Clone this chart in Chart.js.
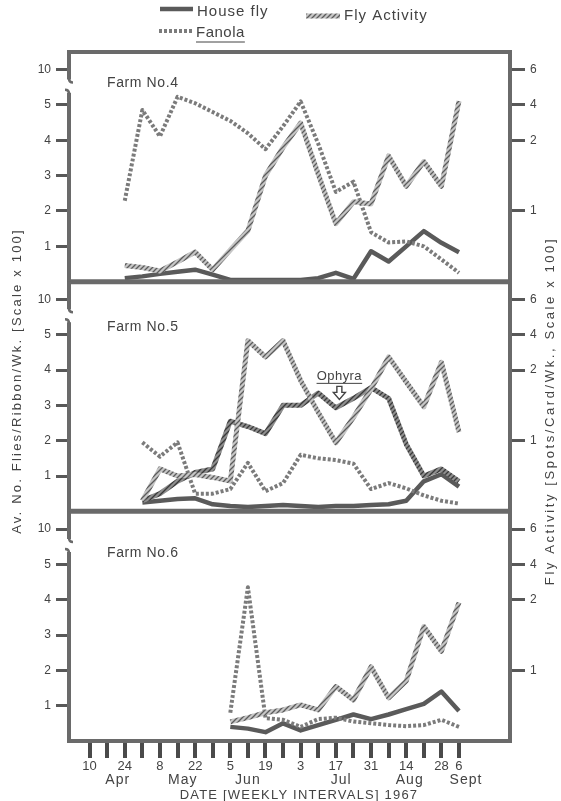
<!DOCTYPE html>
<html>
<head>
<meta charset="utf-8">
<script src="https://cdn.jsdelivr.net/npm/chart.js@4.4.1/dist/chart.umd.min.js"></script>
<style>
  html, body { margin: 0; padding: 0; background: #fff; }
  canvas { display: block; }
</style>
</head>
<body>
<canvas id="flyChart" width="561" height="801"></canvas>
<script>
// weekly intervals, 10 Apr .. 6 Sept 1967 (index 0 = 10 Apr)
const weekLabels = ['10', '', '24', '', '8', '', '22', '', '5', '', '19', '', '3', '', '17', '', '31', '', '14', '', '28', '6'];
const monthLabels = ['Apr', 'May', 'Jun', 'Jul', 'Aug', 'Sept'];
const monthAt = [1.6, 5.3, 9.0, 14.3, 18.2, 21.4];

const fliesTicks = [1, 2, 3, 4, 5, 10];
const activityTicks = [1, 2, 4, 6];

// Farm No.4
const houseFly4 = [null, null, 0.1, 0.15, 0.22, 0.28, 0.34, 0.2, 0.05, 0.05, 0.05, 0.05, 0.05, 0.1, 0.25, 0.08, 0.86, 0.57, 1.0, 1.43, 1.1, 0.83];
const fannia4 = [null, null, 2.29, 4.86, 4.11, 5.23, 5.05, 4.8, 4.55, 4.2, 3.75, 4.4, 5.1, 3.9, 2.54, 2.83, 1.4, 1.11, 1.14, 1.0, 0.63, 0.25];
const activity4 = [null, null, 0.23, 0.2, 0.15, 0.28, 0.42, 0.17, 0.45, 0.72, 1.5, 1.9, 2.98, 1.52, 0.82, 1.13, 1.1, 1.78, 1.35, 1.7, 1.35, 4.22];

// Farm No.5
const houseFly5 = [null, null, null, 0.25, 0.3, 0.35, 0.37, 0.2, 0.15, 0.12, 0.15, 0.18, 0.15, 0.12, 0.15, 0.15, 0.18, 0.2, 0.3, 0.85, 1.05, 0.7];
const ophyra5 = [null, null, null, 0.3, 0.5, 0.85, 1.1, 1.2, 2.55, 2.4, 2.2, 3.0, 3.0, 3.35, 2.93, 3.2, 3.5, 3.2, 1.9, 1.0, 1.2, 0.85];
const fannia5 = [null, null, null, 1.95, 1.55, 1.95, 0.5, 0.5, 0.63, 1.37, 0.57, 0.8, 1.6, 1.5, 1.45, 1.35, 0.63, 0.8, 0.65, 0.45, 0.3, 0.22];
const activity5 = [null, null, null, 0.15, 0.6, 0.5, 0.52, 0.48, 0.43, 3.66, 2.74, 3.66, 1.85, 1.4, 0.97, 1.33, 1.73, 2.74, 1.83, 1.48, 2.44, 1.12];

// Farm No.6
const houseFly6 = [null, null, null, null, null, null, null, null, 0.4, 0.35, 0.25, 0.5, 0.3, 0.45, 0.6, 0.75, 0.62, 0.75, 0.9, 1.05, 1.4, 0.85];
const fannia6 = [null, null, null, null, null, null, null, null, 0.8, 4.35, 0.65, 0.6, 0.4, 0.62, 0.66, 0.55, 0.5, 0.45, 0.42, 0.45, 0.6, 0.4];
const activity6 = [null, null, null, null, null, null, null, null, 0.27, 0.33, 0.4, 0.44, 0.51, 0.44, 0.77, 0.58, 1.05, 0.61, 0.85, 1.62, 1.27, 1.96];

const panels = [
  { title: 'Farm No.4', titleY: 83, houseFly: houseFly4, fannia: fannia4, activity: activity4 },
  { title: 'Farm No.5', titleY: 327, houseFly: houseFly5, fannia: fannia5, activity: activity5, ophyra: ophyra5 },
  { title: 'Farm No.6', titleY: 553, houseFly: houseFly6, fannia: fannia6, activity: activity6 }
];

const SPAN = 6.5;            // height of one panel in axis units
const FONT = '"Liberation Sans", Arial, sans-serif';
const INK = '#434343';
const FRAME = '#6a6a6a';

// broken scales: left is linear to 5 then 10 sits one step up,
// right (fly activity) is x2 up to 2, then 4 and 6 one step each
const fliesPos = v => v <= 5.35 ? v : 6 + (v - 10) / 5;
const activityPos = v => v <= 2 ? 2 * v : v <= 4 ? 4 + (v - 2) / 2 : 5 + (v - 4) / 2;
const offsetOf = k => (panels.length - 1 - k) * SPAN;

Chart.defaults.font.family = FONT;
Chart.defaults.color = INK;

const ctx = document.getElementById('flyChart');
const g = ctx.getContext('2d');

function hatch(bg, fg) {
  const c = document.createElement('canvas');
  c.width = 5; c.height = 5;
  const h = c.getContext('2d');
  h.fillStyle = bg;
  h.fillRect(0, 0, 5, 5);
  h.strokeStyle = fg;
  h.lineWidth = 1.3;
  h.beginPath();
  h.moveTo(-1, 6); h.lineTo(6, -1);
  h.moveTo(-1, 1); h.lineTo(1, -1);
  h.moveTo(4, 6); h.lineTo(6, 4);
  h.stroke();
  return g.createPattern(c, 'repeat');
}

const houseFlyStyle = { borderColor: '#5a5a5a', borderWidth: 4.5, borderDash: [] };
const activityStyle = { borderColor: hatch('#c6c6c6', '#5c5c5c'), borderWidth: 5, borderDash: [] };
const fanniaStyle = { borderColor: '#7b7b7b', borderWidth: 4, borderDash: [3, 2] };
const ophyraStyle = { borderColor: hatch('#8e8e8e', '#3a3a3a'), borderWidth: 5, borderDash: [] };

function series(values, k, toPos) {
  const off = offsetOf(k);
  return values.map((v, i) => ({ x: i, y: v == null ? null : off + toPos(v) }));
}

const datasets = [];
panels.forEach((p, k) => {
  datasets.push({ label: 'Fly Activity', data: series(p.activity, k, activityPos), ...activityStyle });
  datasets.push({ label: 'Fanola', data: series(p.fannia, k, fliesPos), ...fanniaStyle });
  if (p.ophyra) datasets.push({ label: 'Ophyra', data: series(p.ophyra, k, fliesPos), ...ophyraStyle });
  datasets.push({ label: 'House fly', data: series(p.houseFly, k, fliesPos), ...houseFlyStyle });
});

function strokeSample(c, style, x1, x2, y) {
  c.save();
  c.strokeStyle = style.borderColor;
  c.lineWidth = style.borderWidth;
  c.setLineDash(style.borderDash);
  c.beginPath();
  c.moveTo(x1, y); c.lineTo(x2, y);
  c.stroke();
  c.restore();
}

function text(c, s, x, y, size, align, spacing) {
  c.font = size + 'px ' + FONT;
  c.textAlign = align;
  c.textBaseline = 'middle';
  c.letterSpacing = (spacing || 0) + 'px';
  c.fillText(s, x, y);
  c.letterSpacing = '0px';
}

const decorations = {
  id: 'decorations',
  afterDatasetsDraw(chart) {
    const c = chart.ctx, a = chart.chartArea, y = chart.scales.y, x = chart.scales.x;
    c.save();
    c.strokeStyle = FRAME;
    c.lineWidth = 4;
    c.beginPath();
    c.moveTo(a.left - 2, a.top); c.lineTo(a.right, a.top);
    c.lineTo(a.right, a.bottom); c.lineTo(a.left - 2, a.bottom);
    c.stroke();

    c.lineWidth = 5;
    for (let k = 1; k < panels.length; k++) {
      const py = y.getPixelForValue(offsetOf(k) + SPAN);
      c.beginPath(); c.moveTo(a.left - 2, py); c.lineTo(a.right, py); c.stroke();
    }

    // left border, broken between 5 and 10
    panels.forEach((p, k) => {
      const off = offsetOf(k);
      const top = y.getPixelForValue(off + SPAN), bot = y.getPixelForValue(off);
      const b1 = y.getPixelForValue(off + 5.72), b2 = y.getPixelForValue(off + 5.35);
      c.lineWidth = 4;
      c.beginPath();
      c.moveTo(a.left, top); c.lineTo(a.left, b1);
      c.moveTo(a.left, b2); c.lineTo(a.left, bot);
      c.stroke();
      c.lineWidth = 2.5;
      c.beginPath();
      c.moveTo(a.left, b1 - 1); c.quadraticCurveTo(a.left, b1 + 3, a.left + 4, b1 + 3);
      c.moveTo(a.left, b2 + 1); c.quadraticCurveTo(a.left, b2 - 3, a.left - 4, b2 - 3);
      c.stroke();

      c.fillStyle = INK;
      text(c, p.title, 107, p.titleY, 14, 'left', 0.6);
    });

    // Ophyra note on Farm No.5
    const nx = x.getPixelForValue(14.2);
    const ny = y.getPixelForValue(offsetOf(1) + 3.82);
    c.fillStyle = INK;
    text(c, 'Ophyra', nx, ny, 13, 'center', 0.4);
    const w = c.measureText('Ophyra').width + 3;
    c.strokeStyle = INK;
    c.lineWidth = 1;
    c.beginPath(); c.moveTo(nx - w / 2, ny + 7); c.lineTo(nx + w / 2, ny + 7); c.stroke();
    c.lineWidth = 1.4;
    c.beginPath();
    c.moveTo(nx - 2.5, ny + 10); c.lineTo(nx - 2.5, ny + 16); c.lineTo(nx - 6, ny + 16);
    c.lineTo(nx, ny + 23); c.lineTo(nx + 6, ny + 16); c.lineTo(nx + 2.5, ny + 16);
    c.lineTo(nx + 2.5, ny + 10); c.closePath();
    c.stroke();
    c.restore();
  },
  afterDraw(chart) {
    const c = chart.ctx, x = chart.scales.x;
    c.save();
    c.fillStyle = INK;

    // legend
    strokeSample(c, houseFlyStyle, 160, 193, 9);
    text(c, 'House fly', 197, 12, 15, 'left', 1);
    strokeSample(c, activityStyle, 306, 340, 16);
    text(c, 'Fly Activity', 344, 16, 15, 'left', 1);
    strokeSample(c, fanniaStyle, 159, 193, 31);
    text(c, 'Fanola', 196, 33, 15, 'left', 0.5);
    const fw = c.measureText('Fanola').width;
    c.strokeStyle = INK; c.lineWidth = 1;
    c.beginPath(); c.moveTo(196, 42); c.lineTo(199 + fw, 42); c.stroke();

    // months and date title
    monthLabels.forEach((m, j) => text(c, m, x.getPixelForValue(monthAt[j]), 780, 14, 'center', 1));
    text(c, 'DATE [WEEKLY INTERVALS] 1967', 299, 795, 13, 'center', 1.2);

    // axis titles
    c.save();
    c.translate(17, 381); c.rotate(-Math.PI / 2);
    text(c, 'Av. No. Flies/Ribbon/Wk. [Scale x 100]', 0, 0, 13, 'center', 2.2);
    c.restore();
    c.save();
    c.translate(550, 411); c.rotate(-Math.PI / 2);
    text(c, 'Fly Activity [Spots/Card/Wk., Scale x 100]', 0, 0, 13, 'center', 2.6);
    c.restore();
    c.restore();
  }
};

const tickGrid = len => ({ drawOnChartArea: false, drawTicks: true, tickLength: len, tickWidth: 3, tickColor: '#585858', lineWidth: 3 });

new Chart(ctx, {
  type: 'line',
  data: { datasets },
  options: {
    responsive: false,
    animation: false,
    events: [],
    layout: { padding: { top: 52, left: 0, right: 0, bottom: 0 } },
    elements: { point: { radius: 0 }, line: { tension: 0, borderCapStyle: 'butt', borderJoinStyle: 'round' } },
    plugins: { legend: { display: false }, tooltip: { enabled: false } },
    scales: {
      x: {
        type: 'linear', min: -1.17, max: 23.9, bounds: 'data',
        afterBuildTicks: s => { s.ticks = weekLabels.map((l, i) => ({ value: i })); },
        afterFit: s => { s.height = 60; },
        ticks: { autoSkip: false, maxRotation: 0, padding: 1, font: { size: 13 }, color: INK,
                 callback: v => weekLabels[v] },
        grid: { drawOnChartArea: false, drawTicks: true, tickLength: 17, tickWidth: 4, tickColor: '#4a4a4a', lineWidth: 4 },
        border: { display: false }
      },
      y: {
        position: 'left', min: 0, max: SPAN * panels.length, bounds: 'data',
        afterBuildTicks: s => {
          s.ticks = [];
          panels.forEach((p, k) => fliesTicks.forEach(v => s.ticks.push({ value: offsetOf(k) + fliesPos(v) })));
        },
        afterFit: s => { s.width = 69; },
        ticks: { padding: 5, font: { size: 12 }, color: INK,
                 callback: (v, i) => String(fliesTicks[i % fliesTicks.length]) },
        grid: tickGrid(13),
        border: { display: false }
      },
      yR: {
        position: 'right', min: 0, max: SPAN * panels.length, bounds: 'data',
        afterBuildTicks: s => {
          s.ticks = [];
          panels.forEach((p, k) => activityTicks.forEach(v => s.ticks.push({ value: offsetOf(k) + activityPos(v) })));
        },
        afterFit: s => { s.width = 51; },
        ticks: { padding: 5, font: { size: 12 }, color: INK,
                 callback: (v, i) => String(activityTicks[i % activityTicks.length]) },
        grid: tickGrid(15),
        border: { display: false }
      }
    }
  },
  plugins: [decorations]
});
</script>
</body>
</html>
